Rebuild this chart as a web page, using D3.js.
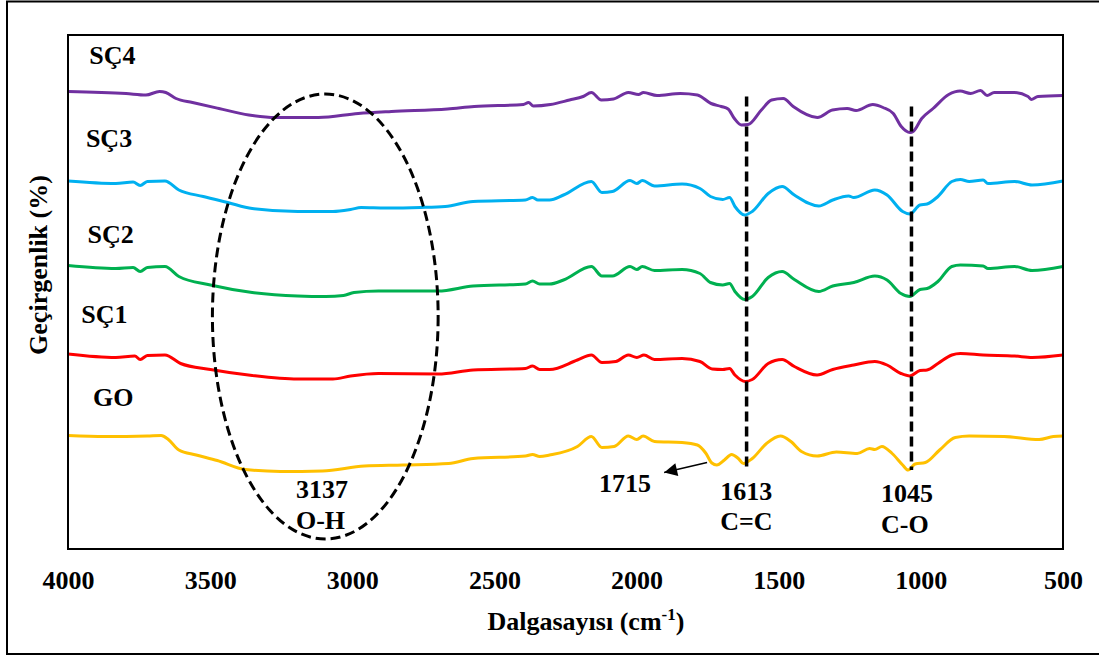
<!DOCTYPE html>
<html>
<head>
<meta charset="utf-8">
<script src="https://cdn.jsdelivr.net/npm/d3@7"></script>
<style>
  body { margin: 0; background: #fff; }
  svg text { font-family: "Liberation Serif", "DejaVu Serif", serif !important; font-weight: bold; fill: #000; }
</style>
</head>
<body>
<svg id="chart" width="1099" height="657"></svg>
<script>
// FTIR spectra, [wavenumber cm-1, transmittance (offset, arbitrary %)]
const xTickValues = [4000, 3500, 3000, 2500, 2000, 1500, 1000, 500];
const seriesNames = ["SÇ4", "SÇ3", "SÇ2", "SÇ1", "GO"];

const sc4Data = [
  [4000, 91.3], [3796, 90.9], [3726, 90.6], [3678, 91.3], [3656, 91.1], [3620, 89.9],
  [3562, 89.1], [3469, 87.9], [3364, 86.6], [3270, 86.1], [3119, 86.1], [2979, 86.9],
  [2862, 87.3], [2665, 87.8], [2571, 88.3], [2398, 88.7], [2380, 89.1], [2363, 88.4],
  [2303, 88.7], [2236, 89.6], [2188, 90.3], [2159, 91.1], [2124, 89.6], [2081, 89.8],
  [2029, 91.1], [1993, 90.7], [1976, 91.1], [1928, 90.5], [1846, 90.9], [1786, 90.6],
  [1738, 88.9], [1702, 88.3], [1678, 87.8], [1656, 85.9], [1631, 84.6], [1608, 84.7],
  [1561, 87.6], [1525, 89.6], [1484, 89.9], [1449, 88.3], [1364, 86.1], [1311, 87.6],
  [1259, 87.9], [1228, 87.5], [1169, 88.7], [1133, 88.1], [1097, 86.9], [1069, 84.3],
  [1038, 83.1], [1027, 83.3], [997, 85.9], [957, 87.9], [902, 90.7], [862, 91.4],
  [825, 90.9], [790, 91.5], [767, 90.5], [742, 91.1], [672, 91.1], [623, 90.3],
  [612, 89.7], [588, 90.3], [500, 90.5]
];

const sc3Data = [
  [4000, 73.4], [3832, 72.9], [3771, 73.2], [3746, 72.5], [3721, 73.3], [3659, 73.4],
  [3610, 71.6], [3524, 70.3], [3438, 69.1], [3352, 67.9], [3192, 67.3], [3068, 67.3],
  [3006, 67.7], [2969, 68.1], [2883, 68.0], [2760, 68.1], [2673, 68.3], [2575, 69.3],
  [2391, 69.6], [2366, 70.1], [2347, 69.6], [2306, 69.6], [2257, 70.6], [2159, 73.3],
  [2122, 71.1], [2085, 71.3], [2023, 73.5], [1999, 72.9], [1980, 73.5], [1937, 72.4],
  [1840, 72.8], [1777, 71.9], [1740, 70.3], [1697, 69.7], [1673, 70.1], [1654, 68.3],
  [1620, 66.6], [1593, 67.3], [1537, 70.9], [1488, 72.3], [1445, 70.6], [1359, 68.4],
  [1310, 69.6], [1254, 70.4], [1236, 70.1], [1162, 71.6], [1119, 70.6], [1064, 67.3],
  [1039, 66.8], [1003, 68.6], [978, 68.8], [940, 70.3], [891, 73.3], [861, 73.7],
  [830, 73.3], [781, 73.6], [764, 72.9], [670, 73.3], [609, 72.6], [500, 73.4]
];

const sc2Data = [
  [4000, 56.5], [3832, 55.9], [3771, 56.1], [3746, 55.3], [3721, 56.1], [3659, 56.3],
  [3610, 54.3], [3499, 52.6], [3352, 51.1], [3192, 50.4], [3093, 50.3], [3031, 50.5],
  [2994, 51.1], [2908, 51.4], [2698, 51.4], [2575, 52.4], [2391, 52.8], [2366, 53.4],
  [2341, 52.8], [2306, 52.8], [2257, 53.6], [2159, 56.3], [2122, 54.4], [2085, 54.4],
  [2023, 56.3], [1999, 55.7], [1980, 56.3], [1937, 55.5], [1840, 55.7], [1777, 54.9],
  [1740, 53.1], [1697, 52.6], [1673, 52.9], [1654, 51.3], [1620, 49.7], [1593, 50.3],
  [1537, 54.1], [1488, 55.3], [1445, 53.7], [1359, 51.3], [1310, 52.4], [1236, 53.1],
  [1162, 54.4], [1119, 53.6], [1070, 50.9], [1039, 50.3], [1003, 51.7], [978, 51.9],
  [940, 53.3], [891, 56.3], [861, 56.6], [781, 56.4], [764, 55.9], [670, 56.3],
  [609, 55.5], [500, 56.3]
];

const sc1Data = [
  [4000, 38.8], [3832, 38.1], [3765, 38.4], [3746, 37.7], [3721, 38.5], [3659, 38.6],
  [3604, 36.9], [3499, 35.7], [3352, 34.5], [3192, 33.8], [3068, 33.8], [3006, 34.4],
  [2908, 34.9], [2698, 34.8], [2575, 35.6], [2391, 35.9], [2366, 36.4], [2341, 35.7],
  [2306, 35.7], [2208, 37.6], [2159, 38.6], [2122, 37.1], [2073, 37.3], [2029, 38.6],
  [1999, 38.1], [1974, 38.6], [1937, 37.7], [1840, 37.9], [1777, 37.3], [1734, 35.8],
  [1697, 35.7], [1673, 35.9], [1654, 34.6], [1617, 33.3], [1593, 33.7], [1537, 36.9],
  [1488, 37.7], [1445, 36.3], [1365, 34.6], [1310, 35.7], [1236, 36.6], [1162, 37.3],
  [1119, 36.6], [1070, 34.9], [1039, 34.4], [1003, 35.5], [978, 35.6], [940, 36.9],
  [891, 38.6], [861, 38.9], [781, 38.6], [670, 38.4], [608, 38.1], [500, 38.6]
];

const goData = [
  [4000, 22.5], [3869, 22.3], [3721, 22.4], [3672, 22.5], [3647, 21.7], [3610, 19.6],
  [3549, 18.6], [3475, 17.5], [3376, 15.7], [3253, 15.3], [3105, 15.4], [2957, 16.4],
  [2821, 16.6], [2661, 16.9], [2575, 17.9], [2391, 18.4], [2366, 18.7], [2341, 18.3],
  [2306, 18.6], [2208, 20.3], [2159, 22.3], [2122, 20.1], [2079, 20.3], [2029, 22.4],
  [1999, 21.7], [1977, 22.4], [1937, 21.3], [1840, 21.1], [1786, 20.6], [1757, 19.0],
  [1735, 17.0], [1718, 16.6], [1691, 17.6], [1666, 18.7], [1642, 17.9], [1624, 16.9],
  [1593, 17.9], [1543, 20.9], [1494, 22.4], [1457, 21.3], [1420, 19.3], [1365, 18.4],
  [1297, 19.2], [1224, 18.9], [1180, 19.9], [1162, 19.7], [1137, 20.3], [1101, 18.9],
  [1064, 16.6], [1045, 15.6], [1020, 16.8], [984, 17.1], [934, 19.6], [879, 22.1],
  [830, 22.4], [707, 22.3], [584, 21.7], [534, 22.3], [500, 22.4]
];

const peakNumbers = ["3137", "1715", "1613", "1045"];
const peakBonds = ["O-H", "C=C", "C-O"];

// ---- layout ----
const FONT = '"Liberation Serif", "DejaVu Serif", serif';
const seriesData = [sc4Data, sc3Data, sc2Data, sc1Data, goData];
const colors = ["#7030A0", "#00B0F0", "#00B050", "#FF0000", "#FFC000"];
const plot = { left: 68, right: 1063, top: 35, bottom: 549 };

const svg = d3.select("#chart");
const x = d3.scaleLinear().domain([4000, 500]).range([plot.left, plot.right]);
const y = d3.scaleLinear().domain([0, 100]).range([548, 48]);

// outer chart border (right side falls outside the picture)
svg.append("rect")
  .attr("x", 7).attr("y", 1.5).attr("width", 1110).attr("height", 652.5)
  .attr("fill", "none").attr("stroke", "#000").attr("stroke-width", 2);

const line = d3.line()
  .x(d => x(d[0]))
  .y(d => y(d[1]))
  .curve(d3.curveMonotoneX);

svg.append("g").selectAll("path")
  .data(seriesData)
  .join("path")
  .attr("d", line)
  .attr("fill", "none")
  .attr("stroke", (d, i) => colors[i])
  .attr("stroke-width", 3)
  .attr("stroke-linejoin", "round");

// plot frame
svg.append("rect")
  .attr("x", plot.left).attr("y", plot.top)
  .attr("width", plot.right - plot.left).attr("height", plot.bottom - plot.top)
  .attr("fill", "none").attr("stroke", "#000").attr("stroke-width", 2);

// x axis: labels only
const xAxis = d3.axisBottom(x).tickValues(xTickValues).tickSize(0).tickFormat(d3.format("d"));
const gx = svg.append("g").attr("transform", `translate(0,${plot.bottom})`).call(xAxis)
  .attr("font-family", FONT).attr("font-size", 26);
gx.select(".domain").remove();
gx.selectAll("text").attr("dy", null).attr("y", 40);

// axis titles
const xTitle = svg.append("text").attr("x", 487.5).attr("y", 630).style("font-size", "26px");
xTitle.append("tspan").text("Dalgasayısı (cm");
xTitle.append("tspan").attr("dy", -10).style("font-size", "17px").text("-1");
xTitle.append("tspan").attr("dy", 10).text(")");

svg.append("text")
  .attr("transform", "translate(46.5,265) rotate(-90)")
  .attr("text-anchor", "middle")
  .style("font-size", "26px")
  .text("Geçirgenlik (%)");

// series labels
const labelAnchor = [[3925, 96.8], [3937, 80.3], [3931, 61.1], [3953, 45.1], [3912, 28.4]];
svg.append("g").selectAll("text")
  .data(seriesNames)
  .join("text")
  .attr("x", (d, i) => x(labelAnchor[i][0]))
  .attr("y", (d, i) => y(labelAnchor[i][1]))
  .style("font-size", "26px")
  .text(d => d);

// O-H region ellipse
const ell = { w: 3095, v: 46.3, dw: 397, dv: 44.5 };
svg.append("ellipse")
  .attr("cx", x(ell.w)).attr("cy", y(ell.v))
  .attr("rx", x(ell.w - ell.dw) - x(ell.w))
  .attr("ry", y(ell.v - ell.dv) - y(ell.v))
  .attr("fill", "none").attr("stroke", "#000")
  .attr("stroke-width", 3).attr("stroke-dasharray", "10,5");

// peak marker lines
const peakLines = [[1613, 90.3, 15.6], [1033, 88.3, 15.6]];
svg.append("g").selectAll("line")
  .data(peakLines)
  .join("line")
  .attr("x1", d => x(d[0])).attr("x2", d => x(d[0]))
  .attr("y1", d => y(d[1])).attr("y2", d => y(d[2]))
  .attr("stroke", "#000").attr("stroke-width", 3.5).attr("stroke-dasharray", "10,5");

// arrow to the 1715 shoulder
svg.append("defs").append("marker")
  .attr("id", "arrow").attr("viewBox", "0 0 10 10")
  .attr("refX", 10).attr("refY", 5)
  .attr("markerUnits", "userSpaceOnUse")
  .attr("markerWidth", 16).attr("markerHeight", 13)
  .attr("orient", "auto")
  .append("path").attr("d", "M0,0L10,5L0,10z").attr("fill", "#000");

svg.append("line")
  .attr("x1", x(1752)).attr("y1", y(17.1))
  .attr("x2", x(1903)).attr("y2", y(15.1))
  .attr("stroke", "#000").attr("stroke-width", 1.5)
  .attr("marker-end", "url(#arrow)");

// peak annotations
const notes = [
  [peakNumbers[0], 3198, 10.1], [peakBonds[0], 3198, 3.9],
  [peakNumbers[1], 2132, 11.3],
  [peakNumbers[2], 1706, 9.7], [peakBonds[1], 1706, 3.6],
  [peakNumbers[3], 1140, 9.3], [peakBonds[2], 1140, 3.1]
];
svg.append("g").selectAll("text")
  .data(notes)
  .join("text")
  .attr("x", d => x(d[1]))
  .attr("y", d => y(d[2]))
  .style("font-size", "26px")
  .text(d => d[0]);

svg.selectAll("text").style("font-family", FONT);
</script>
</body>
</html>
